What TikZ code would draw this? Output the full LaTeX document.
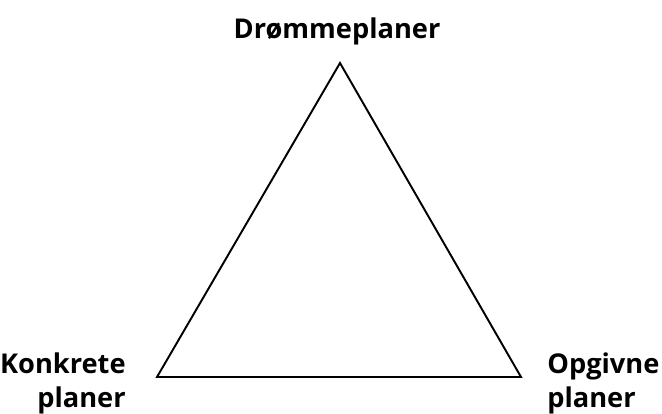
\documentclass[tikz,border=0pt]{standalone}
\usepackage{fontspec}
\setmainfont{Open Sans}
\usepackage{tikz}

\begin{document}
\begin{tikzpicture}[x = 0.02cm, y = -0.02cm, font = \fontsize{15.5}{19.3}\selectfont\bfseries]
        \useasboundingbox (0,0) rectangle (662,413);
        \coordinate (top) at (340,63);
        \coordinate (left) at (157,377);
        \coordinate (right) at (521,377);
        \draw[line width = 1.1pt, line join = miter] (top) -- (left) -- (right) -- cycle;
        \node (dream) at (337,38) [anchor = base] {Drømmeplaner};
        \node (concrete) at (126,407) [anchor = base east, align = right, inner sep = 0pt] {Konkrete\\ planer};
        \node (given) at (547,407) [anchor = base west, align = left, inner sep = 0pt] {Opgivne\\ planer};
    \end{tikzpicture}
\end{document}
